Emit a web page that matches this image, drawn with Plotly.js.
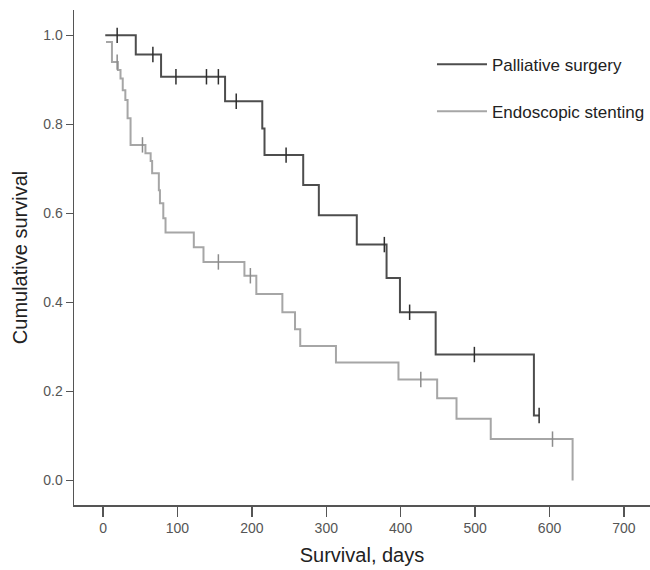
<!DOCTYPE html>
<html>
<head>
<meta charset="utf-8">
<script src="https://cdn.plot.ly/plotly-3.0.1.min.js"></script>
<style>
html,body{margin:0;padding:0;background:#fff;}
#chart{width:650px;height:570px;}
</style>
</head>
<body>
<div id="chart"></div>
<script>
// Kaplan-Meier step data (time in days, cumulative survival after event)
const surgeryDays = [3, 44, 78, 164, 214, 217, 269, 290, 341, 381, 399, 447, 579, 586];
const surgerySurv = [1.0, 0.957, 0.907, 0.852, 0.791, 0.731, 0.664, 0.596, 0.530, 0.455, 0.378, 0.283, 0.146, 0.146];
const surgeryCensorDays = [19, 67, 98, 139, 155, 179, 246, 378, 412, 499, 586];
const surgeryCensorSurv = [1.0, 0.957, 0.907, 0.907, 0.907, 0.852, 0.731, 0.530, 0.378, 0.283, 0.146];

const stentDays = [4, 12, 20, 23.5, 26.5, 30, 33, 37, 57, 64, 66, 75, 76.5, 81, 84, 122, 135, 190, 206, 241, 258, 265, 313, 397, 449, 475, 521, 631];
const stentSurv = [0.985, 0.94, 0.922, 0.903, 0.877, 0.855, 0.814, 0.754, 0.735, 0.718, 0.690, 0.652, 0.623, 0.589, 0.557, 0.524, 0.491, 0.46, 0.419, 0.378, 0.340, 0.302, 0.265, 0.227, 0.185, 0.139, 0.093, 0.0];
const stentCensorDays = [19, 53, 155, 198, 427, 604];
const stentCensorSurv = [0.94, 0.754, 0.491, 0.46, 0.227, 0.093];

const seriesNames = ["Palliative surgery", "Endoscopic stenting"];
const xTickVals = [0, 100, 200, 300, 400, 500, 600, 700];
const yTickVals = [0.0, 0.2, 0.4, 0.6, 0.8, 1.0];

const darkCol = "#4d4d4d";
const lightCol = "#a6a6a6";
const FONT = "Liberation Sans, Arial, sans-serif";

const traces = [
  {x: stentDays, y: stentSurv, mode: "lines", line: {shape: "hv", color: lightCol, width: 2},
   name: seriesNames[1], legendgroup: "b", legendrank: 2, hoverinfo: "skip"},
  {x: stentCensorDays, y: stentCensorSurv, mode: "markers", showlegend: false, legendgroup: "b",
   marker: {symbol: "line-ns-open", size: 11, color: "#8c8c8c", line: {color: "#8c8c8c", width: 1.5}}, hoverinfo: "skip"},
  {x: surgeryDays, y: surgerySurv, mode: "lines", line: {shape: "hv", color: darkCol, width: 2},
   name: seriesNames[0], legendgroup: "a", legendrank: 1, hoverinfo: "skip"},
  {x: surgeryCensorDays, y: surgeryCensorSurv, mode: "markers", showlegend: false, legendgroup: "a",
   marker: {symbol: "line-ns-open", size: 11, color: "#2e2e2e", line: {color: "#2e2e2e", width: 1.5}}, hoverinfo: "skip"}
];

const layout = {
  width: 650, height: 570,
  margin: {l: 74, r: 0, t: 10, b: 65, autoexpand: false},
  paper_bgcolor: "#fff", plot_bgcolor: "#fff",
  font: {family: FONT, color: "#222"},
  showlegend: true,
  legend: {
    x: 0.6215, y: 0.926, xanchor: "left", yanchor: "top",
    font: {family: FONT, size: 17, color: "#222"},
    tracegroupgap: 22, traceorder: "grouped",
    bgcolor: "rgba(0,0,0,0)", borderwidth: 0, itemwidth: 50
  },
  xaxis: {
    range: [-39, 735], tickvals: xTickVals, ticktext: xTickVals.map(String),
    showgrid: false, zeroline: false, showline: true, linecolor: "#555", linewidth: 1.5,
    ticks: "outside", ticklen: 10, tickwidth: 1.5, tickcolor: "#555",
    tickfont: {family: FONT, size: 14, color: "#555"},
    title: {text: "Survival, days", font: {family: FONT, size: 20, color: "#222"}, standoff: 12},
    automargin: false, fixedrange: true
  },
  yaxis: {
    range: [-0.055, 1.057], tickvals: yTickVals, tickformat: ".1f",
    showgrid: false, zeroline: false, showline: true, linecolor: "#555", linewidth: 1.5,
    ticks: "outside", ticklen: 7, tickwidth: 1.5, tickcolor: "#555",
    tickfont: {family: FONT, size: 14, color: "#555"},
    title: {text: "Cumulative survival", font: {family: FONT, size: 20, color: "#222"}, standoff: 10},
    automargin: false, fixedrange: true
  }
};

Plotly.newPlot("chart", traces, layout, {displayModeBar: false, staticPlot: true});
</script>
</body>
</html>
